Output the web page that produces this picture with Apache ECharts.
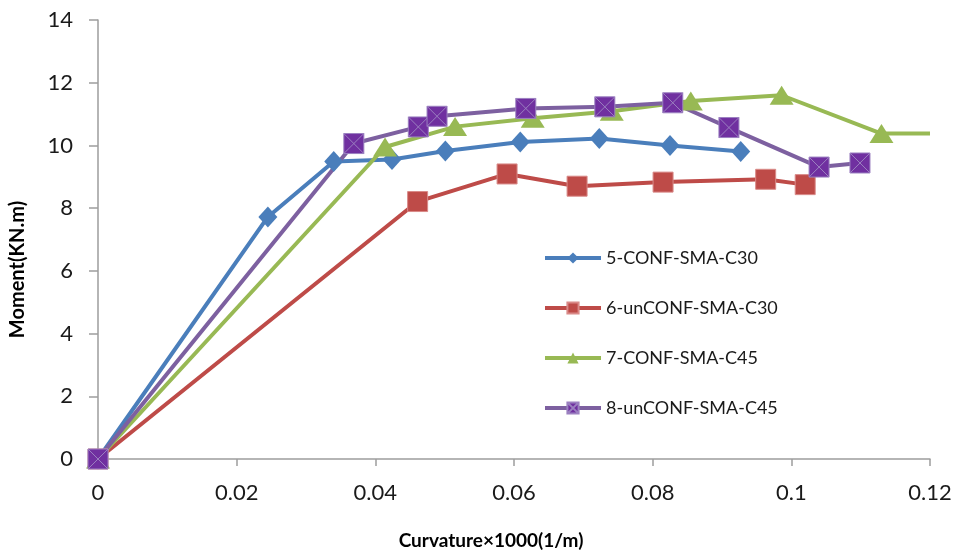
<!DOCTYPE html>
<html>
<head>
<meta charset="utf-8">
<script src="https://cdn.jsdelivr.net/npm/echarts@6/dist/echarts.min.js"></script>
<style>html,body{margin:0;padding:0;background:#fff;}#c{width:954px;height:550px;}</style>
</head>
<body>
<div id="c"></div>
<script>
const seriesNames = ['5-CONF-SMA-C30', '6-unCONF-SMA-C30', '7-CONF-SMA-C45', '8-unCONF-SMA-C45'];
const xTicks = [0, 0.02, 0.04, 0.06, 0.08, 0.1, 0.12];
const yTicks = [0, 2, 4, 6, 8, 10, 12, 14];

const blueX = [0, 0.0245, 0.034, 0.0424, 0.0501, 0.0609, 0.0723, 0.0825, 0.0927];
const blueY = [0, 7.72, 9.49, 9.55, 9.82, 10.11, 10.22, 10.0, 9.81];

const redX = [0, 0.0461, 0.059, 0.0691, 0.0815, 0.0963, 0.102];
const redY = [0, 8.21, 9.09, 8.70, 8.83, 8.92, 8.75];

const greenX = [0, 0.0414, 0.0515, 0.0627, 0.0741, 0.0855, 0.0986, 0.113, 0.12];
const greenY = [0, 9.95, 10.6, 10.87, 11.09, 11.42, 11.6, 10.38, 10.38];

const purpleX = [0, 0.0369, 0.0462, 0.0489, 0.0617, 0.0731, 0.0829, 0.091, 0.104, 0.1099];
const purpleY = [0, 10.06, 10.59, 10.93, 11.18, 11.23, 11.36, 10.57, 9.31, 9.44];

function pairs(xs, ys) { return xs.map((x, i) => [x, ys[i]]); }

const FONT = 'Lato';
const chart = echarts.init(document.getElementById('c'));

const greenData = pairs(greenX, greenY).map((p, i, arr) =>
  i === arr.length - 1 ? { value: p, symbol: 'none' } : p);

chart.setOption({
  animation: false,
  backgroundColor: '#ffffff',
  grid: { left: 98, right: 24, top: 20, bottom: 91, containLabel: false, outerBoundsMode: 'none' },
  xAxis: {
    type: 'value', min: 0, max: 0.12, interval: 0.02,
    name: 'Curvature×1000(1/m)', nameLocation: 'middle', nameGap: 72,
    nameTextStyle: { fontFamily: FONT, fontWeight: 'bold', fontSize: 19, color: '#000', padding: [0, 46, 0, 0] },
    axisLine: { show: true, lineStyle: { color: '#9d9d9d', width: 1.5 } },
    axisTick: { show: true, inside: false, length: 7, lineStyle: { color: '#9d9d9d', width: 1.5 } },
    axisLabel: { fontFamily: FONT, fontSize: 22, color: '#1a1a1a', margin: 23,
      formatter: v => String(+v.toFixed(2)) },
    splitLine: { show: false }
  },
  yAxis: {
    type: 'value', min: 0, max: 14, interval: 2,
    name: 'Moment(KN.m)', nameLocation: 'middle', nameGap: 70, nameRotate: 90,
    nameTextStyle: { fontFamily: FONT, fontWeight: 'bold', fontSize: 20, color: '#000', padding: [0, 60, 0, 0] },
    axisLine: { show: true, lineStyle: { color: '#9d9d9d', width: 1.5 } },
    axisTick: { show: true, inside: false, length: 9, lineStyle: { color: '#9d9d9d', width: 1.5 } },
    axisLabel: { fontFamily: FONT, fontSize: 22, color: '#1a1a1a', margin: 25 },
    splitLine: { show: false }
  },
  legend: {
    orient: 'vertical', left: 538, top: 243,
    itemWidth: 56, itemHeight: 14, itemGap: 30,
    lineStyle: { width: 4 },
    textStyle: { fontFamily: FONT, fontSize: 18, color: '#1a1a1a', lineHeight: 20 },
    data: seriesNames
  },
  series: [
    {
      name: seriesNames[0], type: 'line', data: pairs(blueX, blueY),
      symbol: 'diamond', symbolSize: [19, 21],
      lineStyle: { color: '#4A7EBB', width: 4 },
      itemStyle: { color: '#4A7EBB' }
    },
    {
      name: seriesNames[1], type: 'line', data: pairs(redX, redY),
      symbol: 'rect', symbolSize: 20,
      lineStyle: { color: '#BE4B48', width: 4 },
      itemStyle: { color: '#BE4B48', borderColor: '#d98a88', borderWidth: 1 }
    },
    {
      name: seriesNames[2], type: 'line', data: greenData,
      symbol: 'triangle', symbolSize: [24, 19],
      lineStyle: { color: '#98B954', width: 4 },
      itemStyle: { color: '#98B954' }
    },
    {
      name: seriesNames[3], type: 'line', data: pairs(purpleX, purpleY),
      symbol: 'path://M0 0H20V20H0Z M0 0L20 20 M20 0L0 20', symbolSize: 20, symbolKeepAspect: true,
      lineStyle: { color: '#7D60A0', width: 4 },
      itemStyle: { color: '#7030A0', borderColor: '#9b80c0', borderWidth: 1 }
    }
  ]
});
</script>
</body>
</html>
